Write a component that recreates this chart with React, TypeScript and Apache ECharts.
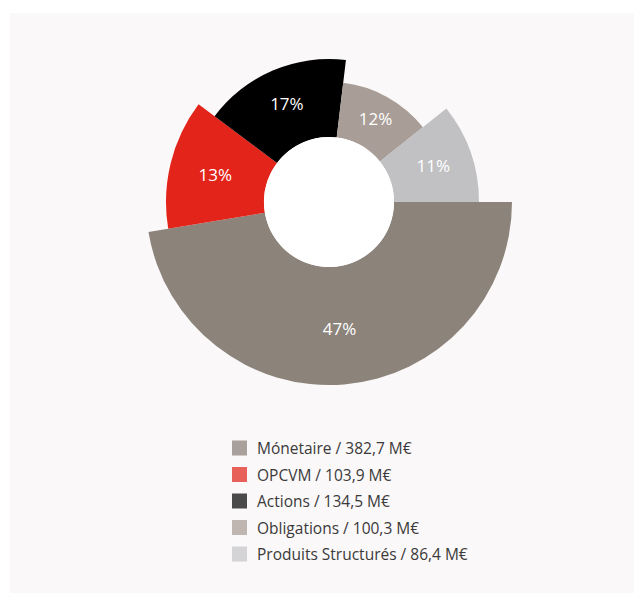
import React, { useEffect, useRef } from "react";
import * as echarts from "echarts";

const categories = ["Mónetaire", "OPCVM", "Actions", "Obligations", "Produits Structurés"];
const values = [382.7, 103.9, 134.5, 100.3, 86.4];
const valueLabels = ["382,7 M€", "103,9 M€", "134,5 M€", "100,3 M€", "86,4 M€"];
const sliceColors = ["#8c837b", "#e3241b", "#000000", "#a89e97", "#c1c1c4"];
const legendColors = ["#aaa09b", "#e8605a", "#4a4a4a", "#c0b6b1", "#d4d3d5"];
const outerRadii = [183, 163, 143, 120, 150];

const CENTER = [329, 202];
const INNER = 65;

export default function App() {
  const ref = useRef<HTMLDivElement>(null);
  useEffect(() => {
    if (!ref.current) return;
    const chart = echarts.init(ref.current, undefined, { renderer: "svg" });
    const series: any[] = categories.map((cat, i) => ({
      type: "pie",
      center: CENTER,
      radius: [INNER, outerRadii[i]],
      startAngle: 0,
      clockwise: true,
      avoidLabelOverlap: false,
      emphasis: { disabled: true },
      labelLine: { show: false },
      data: values.map((v, j) =>
        j === i
          ? {
              name: cat,
              value: v,
              itemStyle: { color: sliceColors[j] },
              label: {
                show: true,
                position: "inside",
                color: "#ffffff",
                fontSize: 17,
                fontFamily: "Open Sans",
                formatter: (p: any) => Math.round(p.percent) + "%",
              },
            }
          : {
              name: `__${i}_${j}`,
              value: v,
              itemStyle: { color: "transparent" },
              label: { show: false },
              tooltip: { show: false },
            }
      ),
    }));
    series.push({
      type: "pie",
      center: CENTER,
      radius: [0, INNER],
      silent: true,
      label: { show: false },
      labelLine: { show: false },
      emphasis: { disabled: true },
      data: [{ name: "__hole", value: 1, itemStyle: { color: "#ffffff" } }],
    });
    chart.setOption({
      animation: false,
      backgroundColor: "#ffffff",
      graphic: [
        {
          type: "rect",
          z: -10,
          silent: true,
          shape: { x: 10, y: 13, width: 624, height: 580 },
          style: { fill: "#faf8f8" },
        },
      ],
      legend: {
        orient: "vertical",
        left: 232,
        top: 440,
        padding: 0,
        itemWidth: 15,
        itemHeight: 15,
        itemGap: 10.5,
        icon: "rect",
        selectedMode: false,
        data: categories.map((c, i) => ({ name: c, itemStyle: { color: legendColors[i] } })),
        formatter: (name: string) => {
          const i = categories.indexOf(name);
          return `${name} / ${valueLabels[i]}`;
        },
        textStyle: {
          fontSize: 15.5,
          color: "#3a3a3a",
          fontFamily: "Open Sans",
          padding: [0, 0, 0, 5],
        },
      },
      series,
    });
    return () => chart.dispose();
  }, []);
  return (
    <div
      ref={ref}
      style={{ position: "absolute", left: 0, top: 0, width: 637, height: 595 }}
    />
  );
}
